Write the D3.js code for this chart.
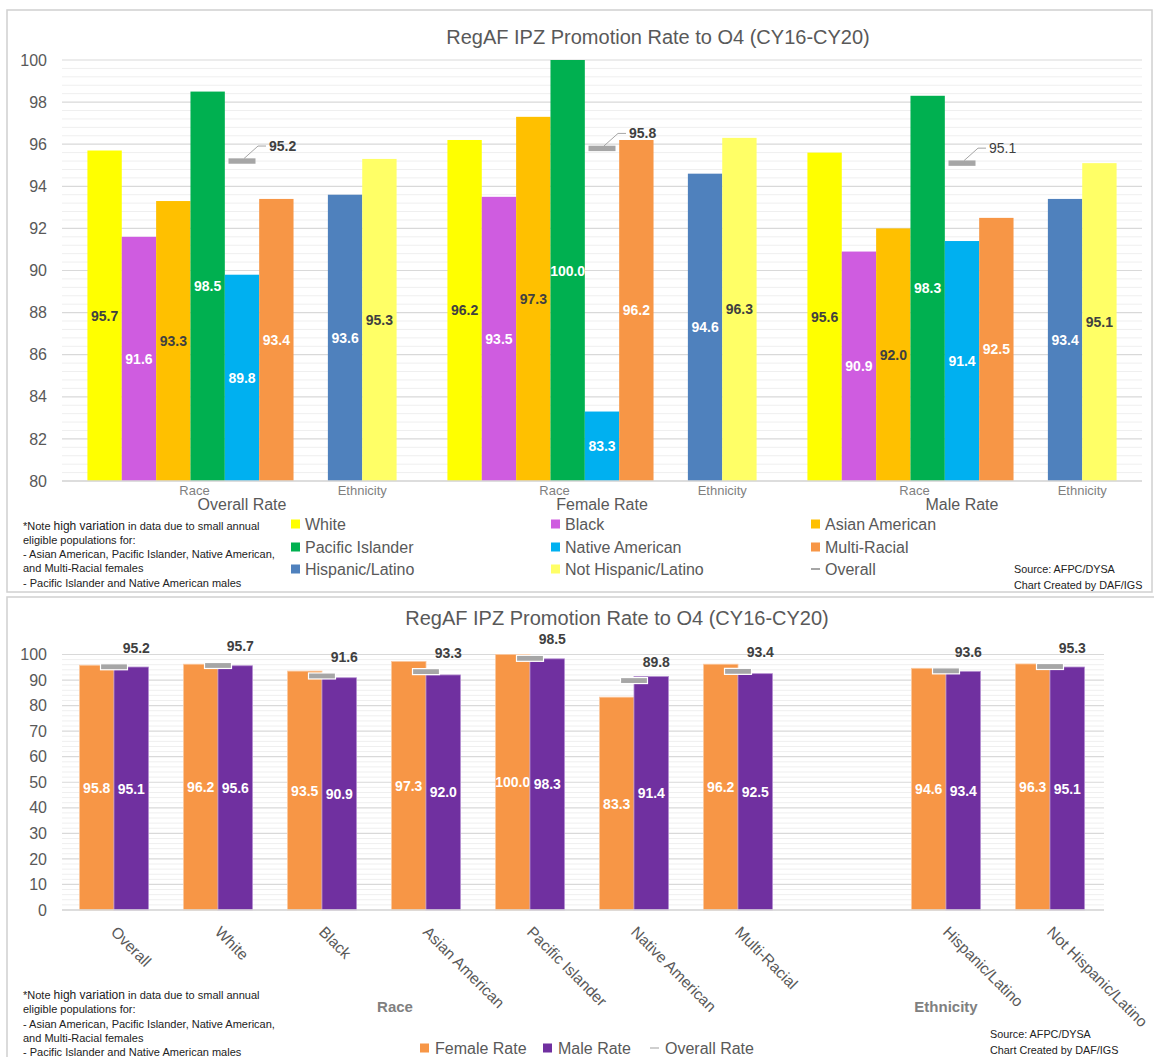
<!DOCTYPE html>
<html><head><meta charset="utf-8">
<script src="https://cdn.jsdelivr.net/npm/d3@7"></script>
<style>
body{margin:0;background:#fff;}
svg text{font-family:"Liberation Sans",Arial,sans-serif;}
</style></head>
<body><svg id="c" width="1154" height="1057"></svg>
<script>
// ---------- DATA ----------
const chartTitle = "RegAF IPZ Promotion Rate to O4 (CY16-CY20)";
const groups = ["Overall Rate", "Female Rate", "Male Rate"];
const raceSeries = ["White", "Black", "Asian American", "Pacific Islander", "Native American", "Multi-Racial"];
const ethSeries = ["Hispanic/Latino", "Not Hispanic/Latino"];
const whiteVals = [95.7, 96.2, 95.6];
const blackVals = [91.6, 93.5, 90.9];
const asianVals = [93.3, 97.3, 92.0];
const pacificVals = [98.5, 100.0, 98.3];
const nativeVals = [89.8, 83.3, 91.4];
const multiVals = [93.4, 96.2, 92.5];
const hispanicVals = [93.6, 94.6, 93.4];
const notHispanicVals = [95.3, 96.3, 95.1];
const overallVals = [95.2, 95.8, 95.1];
const topTicks = [80, 82, 84, 86, 88, 90, 92, 94, 96, 98, 100];
const subCategories = ["Race", "Ethnicity"];

const categories = ["Overall", "White", "Black", "Asian American", "Pacific Islander", "Native American", "Multi-Racial", " ", "Hispanic/Latino", "Not Hispanic/Latino"];
const femaleRate = [95.8, 96.2, 93.5, 97.3, 100.0, 83.3, 96.2, null, 94.6, 96.3];
const maleRate = [95.1, 95.6, 90.9, 92.0, 98.3, 91.4, 92.5, null, 93.4, 95.1];
const overallRate = [95.2, 95.7, 91.6, 93.3, 98.5, 89.8, 93.4, null, 93.6, 95.3];
const bottomTicks = [0, 10, 20, 30, 40, 50, 60, 70, 80, 90, 100];
const bottomAxisTitles = ["Race", "Ethnicity"];

const noteLines = ["*Note high variation in data due to small annual", "eligible populations for:", "- Asian American, Pacific Islander, Native American,", "and Multi-Racial females", "- Pacific Islander and Native American males"];
const sourceLines = ["Source: AFPC/DYSA", "Chart Created by DAF/IGS"];

// ---------- STYLE ----------
const seriesColor = {
  "White": "#ffff00", "Black": "#cf5ce0", "Asian American": "#ffc000", "Pacific Islander": "#00b050",
  "Native American": "#00b0f0", "Multi-Racial": "#f79646", "Hispanic/Latino": "#4f81bd", "Not Hispanic/Latino": "#ffff66"
};
const darkLabel = new Set(["White", "Asian American", "Not Hispanic/Latino"]);
const grey = "#595959";
const svg = d3.select("#c");

// panels
svg.append("rect").attr("x", 7).attr("y", 10).attr("width", 1145).attr("height", 582)
  .attr("fill", "#fff").attr("stroke", "#d0d0d0").attr("stroke-width", 1.5);
svg.append("rect").attr("x", 7).attr("y", 597).attr("width", 1160).attr("height", 480)
  .attr("fill", "#fff").attr("stroke", "#d0d0d0").attr("stroke-width", 1.5);

// ================= TOP CHART =================
const topSeriesValues = {
  "White": whiteVals, "Black": blackVals, "Asian American": asianVals, "Pacific Islander": pacificVals,
  "Native American": nativeVals, "Multi-Racial": multiVals, "Hispanic/Latino": hispanicVals, "Not Hispanic/Latino": notHispanicVals
};
const yT = d3.scaleLinear().domain([80, 100]).range([481, 60]);
const x0 = d3.scaleBand().domain(groups).range([62, 1142]);
const slots = [...raceSeries, "__gap__", ...ethSeries];
const x1 = d3.scaleBand().domain(slots).range([0, x0.bandwidth()]).paddingInner(0).paddingOuter(0.74);

const gT = svg.append("g");
const minorT = d3.range(80, 100.001, 0.4).filter(v => Math.abs(v / 2 - Math.round(v / 2)) > 1e-6);
gT.selectAll("line.mi").data(minorT).join("line")
  .attr("x1", 62).attr("x2", 1142).attr("y1", d => yT(d)).attr("y2", d => yT(d))
  .attr("stroke", "#efefef").attr("stroke-width", 1);
gT.selectAll("line.ma").data(topTicks).join("line")
  .attr("x1", 62).attr("x2", 1142).attr("y1", d => yT(d)).attr("y2", d => yT(d))
  .attr("stroke", "#d9d9d9").attr("stroke-width", 1.2);
const axT = gT.append("g").attr("transform", "translate(47,0)")
  .call(d3.axisLeft(yT).tickValues(topTicks).tickSize(0).tickPadding(0));
axT.select(".domain").remove();
axT.selectAll("text").attr("fill", grey).style("font-size", "16px").style("font-family", "Liberation Sans, Arial, sans-serif");

const topBars = [];
groups.forEach((g, gi) => {
  Object.keys(topSeriesValues).forEach(s => topBars.push({ g, s, v: topSeriesValues[s][gi] }));
});
gT.selectAll("rect.bar").data(topBars).join("rect")
  .attr("x", d => x0(d.g) + x1(d.s)).attr("width", x1.bandwidth())
  .attr("y", d => yT(d.v)).attr("height", d => yT(80) - yT(d.v))
  .attr("fill", d => seriesColor[d.s]);
gT.selectAll("text.bl").data(topBars).join("text")
  .attr("x", d => x0(d.g) + x1(d.s) + x1.bandwidth() / 2)
  .attr("y", d => (yT(d.v) + yT(80)) / 2)
  .attr("text-anchor", "middle").attr("dominant-baseline", "central")
  .attr("font-size", 14).attr("font-weight", "bold")
  .attr("fill", d => darkLabel.has(d.s) ? "#404040" : "#ffffff")
  .text(d => d.v.toFixed(1));

groups.forEach((g, gi) => {
  const cx = x0(g) + x0.bandwidth() / 2, cy = yT(overallVals[gi]);
  gT.append("rect").attr("x", cx - 13.5).attr("y", cy - 2.7).attr("width", 27).attr("height", 5.4).attr("fill", "#a6a6a6");
  gT.append("path").attr("d", `M${cx + 2},${cy - 2.5} L${cx + 16},${cy - 15} L${cx + 24},${cy - 15}`)
    .attr("fill", "none").attr("stroke", "#a6a6a6").attr("stroke-width", 1);
  gT.append("text").attr("x", cx + 27).attr("y", cy - 15).attr("dominant-baseline", "central")
    .attr("font-size", 14).attr("font-weight", gi === 2 ? "normal" : "bold").attr("fill", "#404040")
    .text(overallVals[gi].toFixed(1));
});

gT.append("line").attr("x1", 62).attr("x2", 1142).attr("y1", yT(80)).attr("y2", yT(80)).attr("stroke", "#d9d9d9").attr("stroke-width", 1.5);

groups.forEach(g => {
  const raceC = x0(g) + (x1(raceSeries[0]) + x1(raceSeries[5]) + x1.bandwidth()) / 2 + 4;
  const ethC = x0(g) + (x1(ethSeries[0]) + x1(ethSeries[1]) + x1.bandwidth()) / 2;
  [[subCategories[0], raceC], [subCategories[1], ethC]].forEach(([t, x]) => {
    gT.append("text").attr("x", x).attr("y", 490).attr("text-anchor", "middle").attr("dominant-baseline", "central")
      .attr("font-size", 13).attr("fill", "#7f7f7f").text(t);
  });
  gT.append("text").attr("x", x0(g) + x0.bandwidth() / 2).attr("y", 504).attr("text-anchor", "middle")
    .attr("dominant-baseline", "central").attr("font-size", 16).attr("fill", grey).text(g);
});

svg.append("text").attr("x", 658).attr("y", 37).attr("text-anchor", "middle").attr("dominant-baseline", "central")
  .attr("font-size", 20).attr("fill", grey).text(chartTitle);

const legendOrder = ["White", "Black", "Asian American", "Pacific Islander", "Native American", "Multi-Racial", "Hispanic/Latino", "Not Hispanic/Latino", "Overall"];
const legCols = [291, 551, 811], legRows = [524, 547, 569];
legendOrder.forEach((s, i) => {
  const lx = legCols[i % 3], ly = legRows[Math.floor(i / 3)];
  if (s === "Overall") {
    svg.append("line").attr("x1", lx).attr("x2", lx + 9).attr("y1", ly).attr("y2", ly).attr("stroke", "#a6a6a6").attr("stroke-width", 2);
  } else {
    svg.append("rect").attr("x", lx).attr("y", ly - 4.5).attr("width", 9).attr("height", 9).attr("fill", seriesColor[s]);
  }
  svg.append("text").attr("x", lx + 14).attr("y", ly).attr("dominant-baseline", "central")
    .attr("font-size", 16).attr("fill", grey).text(s);
});

function drawNotes(y0) {
  noteLines.forEach((t, i) => {
    const tx = svg.append("text").attr("x", 23).attr("y", y0 + i * 14.3).attr("dominant-baseline", "central")
      .attr("font-size", 11).attr("fill", "#222");
    if (i === 0) {
      tx.append("tspan").text("*Note ");
      tx.append("tspan").attr("font-size", 12).text("high variation");
      tx.append("tspan").text(" in data due to small annual");
    } else tx.text(t);
  });
}
function drawSource(x, y0) {
  sourceLines.forEach((t, i) => {
    svg.append("text").attr("x", x).attr("y", y0 + i * 15.5).attr("dominant-baseline", "central")
      .attr("font-size", 10.8).attr("fill", "#222").text(t);
  });
}
drawNotes(525.5);
drawSource(1014, 569);

// ================= BOTTOM CHART =================
const yB = d3.scaleLinear().domain([0, 100]).range([910, 654.5]);
const xB = d3.scaleBand().domain(categories).range([62, 1102]);
const xBi = d3.scaleBand().domain(["Female", "Male"]).range([0, xB.bandwidth()]).paddingInner(0).paddingOuter(0.507);
const gB = svg.append("g");
const minorB = d3.range(0, 100.001, 2).filter(v => v % 10 !== 0);
gB.selectAll("line.mi").data(minorB).join("line")
  .attr("x1", 62).attr("x2", 1104).attr("y1", d => yB(d)).attr("y2", d => yB(d))
  .attr("stroke", "#efefef").attr("stroke-width", 1);
gB.selectAll("line.ma").data(bottomTicks).join("line")
  .attr("x1", 62).attr("x2", 1104).attr("y1", d => yB(d)).attr("y2", d => yB(d))
  .attr("stroke", "#d9d9d9").attr("stroke-width", 1.2);
const axB = gB.append("g").attr("transform", "translate(47,0)")
  .call(d3.axisLeft(yB).tickValues(bottomTicks).tickSize(0).tickPadding(0));
axB.select(".domain").remove();
axB.selectAll("text").attr("fill", grey).style("font-size", "16px").style("font-family", "Liberation Sans, Arial, sans-serif");

const bData = categories.map((c, i) => ({ c, f: femaleRate[i], m: maleRate[i], o: overallRate[i] })).filter(d => d.f !== null);
bData.forEach(d => {
  [["Female", d.f, "#f79646", "#fbc9a0"], ["Male", d.m, "#7030a0", "#b58fd0"]].forEach(([k, v, col, st]) => {
    const bx = xB(d.c) + xBi(k);
    gB.append("rect").attr("x", bx).attr("width", xBi.bandwidth()).attr("y", yB(v)).attr("height", yB(0) - yB(v))
      .attr("fill", col).attr("stroke", st).attr("stroke-width", 0.8);
    gB.append("text").attr("x", bx + xBi.bandwidth() / 2).attr("y", (yB(v) + yB(0)) / 2)
      .attr("text-anchor", "middle").attr("dominant-baseline", "central")
      .attr("font-size", 14).attr("font-weight", "bold").attr("fill", "#fff").text(v.toFixed(1));
  });
  const cx = xB(d.c) + xB.bandwidth() / 2, cy = yB(d.o);
  gB.append("rect").attr("x", cx - 13.5).attr("y", cy - 3).attr("width", 27).attr("height", 6)
    .attr("fill", "#a6a6a6").attr("stroke", "#fff").attr("stroke-width", 1.2);
  gB.append("text").attr("x", xB(d.c) + xBi("Male") + xBi.bandwidth() / 2 + 5).attr("y", cy - 19)
    .attr("text-anchor", "middle").attr("dominant-baseline", "central")
    .attr("font-size", 14).attr("font-weight", "bold").attr("fill", "#404040").text(d.o.toFixed(1));
});
gB.append("line").attr("x1", 62).attr("x2", 1104).attr("y1", yB(0)).attr("y2", yB(0)).attr("stroke", "#d9d9d9").attr("stroke-width", 1.5);

categories.filter(c => c.trim() !== "").forEach(c => {
  const ax = xB(c) + xB.bandwidth() / 2 - 4, ay = 933;
  gB.append("text").attr("transform", `translate(${ax},${ay}) rotate(45)`)
    .attr("font-size", 15.5).attr("fill", grey).text(c);
});
const raceTitleX = (xB("Black") + xB("Asian American") + xB.bandwidth()) / 2 + 21;
const ethTitleX = xB("Hispanic/Latino") + xB.bandwidth() / 2;
[[bottomAxisTitles[0], raceTitleX], [bottomAxisTitles[1], ethTitleX]].forEach(([t, x]) => {
  svg.append("text").attr("x", x).attr("y", 1006).attr("text-anchor", "middle").attr("dominant-baseline", "central")
    .attr("font-size", 15).attr("font-weight", "bold").attr("fill", "#808080").text(t);
});
svg.append("text").attr("x", 617).attr("y", 618).attr("text-anchor", "middle").attr("dominant-baseline", "central")
  .attr("font-size", 20).attr("fill", grey).text(chartTitle);
const lgB = [["Female Rate", 420, "rect", "#f79646"], ["Male Rate", 543, "rect", "#7030a0"], ["Overall Rate", 650, "line", "#bfbfbf"]];
lgB.forEach(([t, lx, kind, col]) => {
  const ly = 1048;
  if (kind === "rect") svg.append("rect").attr("x", lx).attr("y", ly - 4.5).attr("width", 9).attr("height", 9).attr("fill", col);
  else svg.append("line").attr("x1", lx).attr("x2", lx + 9).attr("y1", ly).attr("y2", ly).attr("stroke", col).attr("stroke-width", 1.5);
  svg.append("text").attr("x", lx + 15).attr("y", ly).attr("dominant-baseline", "central")
    .attr("font-size", 16).attr("fill", grey).text(t);
});
drawNotes(995);
drawSource(990, 1034);
</script></body></html>
